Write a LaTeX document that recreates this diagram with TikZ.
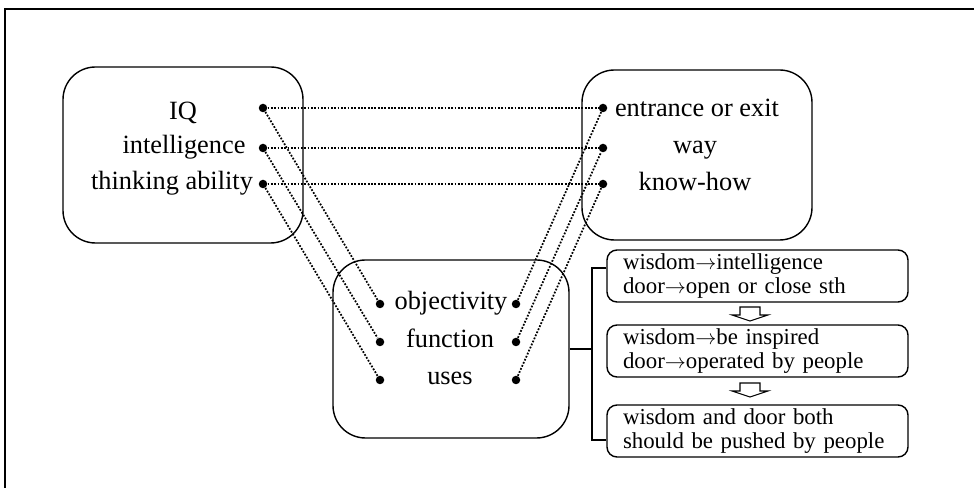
\documentclass[tikz,border=0pt]{standalone}
\usepackage{fontspec}
\setmainfont{Liberation Serif}
\usetikzlibrary{positioning}
\newcommand{\goesto}{$\rightarrow$}
\hyphenpenalty=10000

\begin{document}
\begin{tikzpicture}[every node/.style={font=\fontsize{15}{18}\selectfont},bigbox/.style={draw,line width=.8pt,rounded corners=.65cm},notebox/.style={draw,line width=.8pt,rounded corners=.2cm,align=left,text width=5.38cm,minimum width=6.02cm,minimum height=1.04cm,inner xsep=.32cm,inner ysep=0pt,font=\fontsize{13}{13.8}\selectfont},dot/.style={circle,fill,inner sep=0pt,minimum size=.17cm},word/.style={anchor=base,inner sep=0pt},link/.style={line width=1pt,dash pattern=on 1pt off .9pt},hollow/.style={draw,line width=.6pt}]
\useasboundingbox (0,0) rectangle (19.48,9.76);
\draw[line width=1.2pt] (0.1,0) -- (0.1,9.58) -- (19.48,9.58);
\node[bigbox,minimum width=4.8cm,minimum height=3.52cm] (lbox) at (3.66,6.66) {};\node[bigbox,minimum width=4.6cm,minimum height=3.4cm] (rbox) at (13.94,6.66) {};\node[bigbox,minimum width=4.72cm,minimum height=3.56cm] (mbox) at (9.02,2.78) {};
\node[word] (lt1) at (3.66,7.36) {IQ};\node[word] (lt2) at (3.68,6.68) {intelligence};\node[word] (lt3) at (3.44,5.96) {thinking ability};
\node[word] (rt1) at (13.94,7.42) {entrance or exit};\node[word] (rt2) at (13.90,6.68) {way};\node[word] (rt3) at (13.90,5.94) {know-how};
\node[word] (mt1) at (9.02,3.56) {objectivity};\node[word] (mt2) at (9.00,2.80) {function};\node[word] (mt3) at (9.00,2.06) {uses};
\foreach \i/\y in {1/7.60,2/6.80,3/6.08} {\node[dot] (l\i) at (5.26,\y) {};\node[dot] (r\i) at (12.06,\y) {};}
\foreach \i/\y in {1/3.68,2/2.92,3/2.16} {\node[dot] (ml\i) at (7.60,\y) {};\node[dot] (mr\i) at (10.32,\y) {};}
\foreach \i in {1,2,3} {\draw[link] (l\i) -- (r\i);\draw[link] (l\i) -- (ml\i);\draw[link] (mr\i) -- (r\i);}
\node[notebox] (b1) at (15.15,4.24) {wisdom\goesto intelligence\\door\goesto open or close sth};
\node[notebox] (b2) at (15.15,2.74) {wisdom\goesto be inspired\\door\goesto operated by people};
\node[notebox] (b3) at (15.15,1.14) {wisdom and door both\\should be pushed by people};
\coordinate (br) at (11.84,2.78);
\draw[line width=.8pt] (mbox.east) -- (br);\draw[line width=.8pt] ([yshift=.16cm]b1.west) -| (br) |- ([yshift=-.18cm]b3.west);
\foreach \t in {3.62,2.10} \draw[hollow] (14.8,\t) -- ++(0.4,0) -- ++(0,-0.16) -- ++(0.16,0) -- (15,{\t-0.28}) -- ++(-0.36,0.12) -- ++(0.16,0) -- cycle;
\end{tikzpicture}
\end{document}
